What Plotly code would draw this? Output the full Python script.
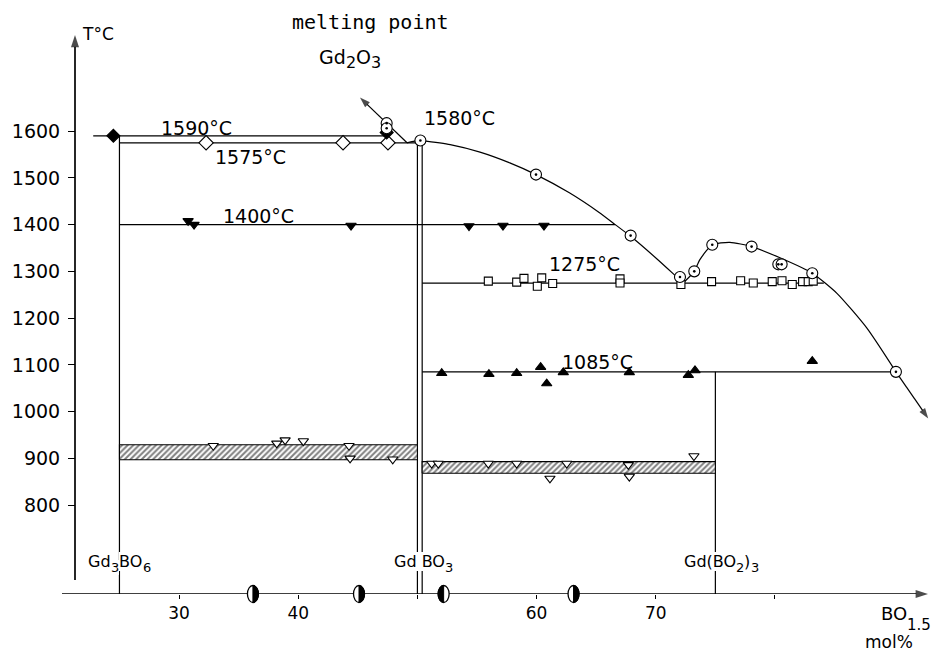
import plotly.graph_objects as go

# ---------------- axes ----------------
X_RANGE = [20.18, 93.26]            # mol% BO1.5
Y_RANGE = [609.8, 1816.3]           # temperature, °C
X_TICKS = [30, 40, 60, 70]
X_MINOR_TICKS = [50, 80]
Y_TICKS = [800, 900, 1000, 1100, 1200, 1300, 1400, 1500, 1600]

# ---------------- compounds (mol% BO1.5) ----------------
# formula pieces: (text, is_subscript)
COMPOUND_PIECES = [
    [("Gd", False), ("3", True), ("BO", False), ("6", True)],
    [("Gd BO", False), ("3", True)],
    [("Gd(BO", False), ("2", True), (")", False), ("3", True)],
]
COMPOUND_X = [25, 50, 75]
GD3BO6_TOP = 1590
GDBO3_PAIR = [50.0, 50.4]
GDBO3_MELT = 1580
GDB3O6_TOP = 1085

# ---------------- invariant isotherms ----------------
ISO_T = [1590, 1575, 1400, 1275, 1085]
ISO_X0 = [22.8, 25.0, 25.0, 50.4, 50.4]
ISO_X1 = [47.42, 50.0, 66.6, 84.1, 90.15]

# ---------------- hatched transition bands ----------------
BAND_X0 = [25.0, 50.4]
BAND_X1 = [50.0, 75.0]
BAND_T_LO = [897, 868]
BAND_T_HI = [929, 893]

# ---------------- liquidus ----------------
LIQ_LEFT_X = [49.13, 47.42, 45.18]
LIQ_LEFT_T = [1575, 1617, 1672]
LIQ_CAP_X = [49.13, 49.75, 50.25]
LIQ_CAP_T = [1575, 1578.5, 1580]
LIQ_MAIN_X = [50.25, 52.75, 55.25, 57.75, 59.95, 62.75, 65.25, 66.6, 67.89, 70.08, 71.5, 72.3]
LIQ_MAIN_T = [1580, 1571, 1555, 1532, 1507, 1468, 1426, 1400, 1375, 1327, 1294, 1275]
LIQ_DOME_X = [72.3, 73.23, 73.7, 74.74, 76.22, 78.04, 80.42, 83.13, 85.2, 87.7, 90.15]
LIQ_DOME_T = [1275, 1300, 1325, 1357, 1362, 1353, 1329, 1296, 1253, 1179, 1085]
LIQ_TAIL_X = [90.15, 92.86]
LIQ_TAIL_T = [1085, 985]

# ---------------- measured points ----------------
CIRC_X = [47.42, 47.42, 50.25, 59.95, 67.89, 72.03, 73.23, 74.74, 78.04, 80.28, 80.56, 83.13, 90.15]
CIRC_T = [1617, 1606, 1580, 1507, 1376.5, 1288, 1300, 1357, 1353, 1315, 1315, 1296, 1085]

DIAM_OPEN_X = [32.27, 43.76, 47.53]
DIAM_OPEN_T = [1575, 1575, 1575]
DIAM_FILL_X = [24.49, 47.42]
DIAM_FILL_T = [1590, 1597]

TRI_DOWN_FILL_X = [30.76, 31.26, 44.43, 54.33, 57.18, 60.62]
TRI_DOWN_FILL_T = [1408, 1400, 1398, 1397, 1398, 1398]

SQ_X = [55.95, 58.33, 58.94, 60.06, 60.43, 61.35, 67.0, 67.0, 72.11, 74.68, 77.12, 78.18,
        79.77, 80.59, 81.45, 82.32, 82.79, 83.21]
SQ_T = [1279, 1277, 1285, 1268, 1286, 1274, 1284, 1275, 1272, 1278, 1280, 1275,
        1278, 1280, 1272, 1278, 1278, 1279]

TRI_UP_FILL_X = [52.04, 56.0, 58.33, 60.34, 60.85, 62.24, 67.78, 72.73, 73.29, 83.13]
TRI_UP_FILL_T = [1082, 1080, 1082, 1095, 1060, 1084, 1084, 1078, 1088, 1108]

TRI_DOWN_OPEN_X = [32.87, 38.2, 38.9, 40.43, 44.26, 44.35, 47.93,
                   51.2, 51.75, 55.95, 58.33, 61.12, 62.53, 67.7, 67.78, 73.2]
TRI_DOWN_OPEN_T = [927, 932, 939, 937, 927, 900, 898,
                   889, 889, 889, 889, 857, 889, 886, 861, 905]

# half-filled samples on the composition axis: side of the black half
HALF_X = [36.2, 45.1, 52.2, 63.1]
HALF_SIDE = ["right", "right", "left", "right"]

FONT = "DejaVu Sans"
INK = "black"
W, H = 935, 653
M = dict(l=62, r=2, t=30, b=59)
PLOT_W = W - M["l"] - M["r"]
PLOT_H = H - M["t"] - M["b"]
PX_PER_MOL = PLOT_W / (X_RANGE[1] - X_RANGE[0])
PX_PER_DEG = PLOT_H / (Y_RANGE[1] - Y_RANGE[0])
Y_AXIS_PX = 13                      # y axis sits this far right of the plot edge

# DejaVu Sans advance widths (em) for laying out formula pieces
GLYPH_W = {"G": 0.775, "d": 0.635, "B": 0.686, "O": 0.787, " ": 0.318, "(": 0.390, ")": 0.390}


def text_width(s, size):
    return sum(GLYPH_W.get(c, 0.636) for c in s) * size


fig = go.Figure()


def line(xs, ys, shape="linear", width=1.2, arrow=False, arrow_size=11):
    kw = {}
    if arrow:
        kw = dict(mode="lines+markers",
                  marker=dict(symbol="arrow", angleref="previous", color=INK,
                              size=[0] * (len(xs) - 1) + [arrow_size], line=dict(width=0)))
    fig.add_trace(go.Scatter(
        x=xs, y=ys, mode=kw.pop("mode", "lines"),
        line=dict(color=INK, width=width, shape=shape, smoothing=0.6),
        hoverinfo="skip", showlegend=False, cliponaxis=False, **kw))


def points(xs, ys, symbol, size, fill, lw=1.1):
    fig.add_trace(go.Scatter(
        x=xs, y=ys, mode="markers",
        marker=dict(symbol=symbol, size=size, color=fill, line=dict(color=INK, width=lw)),
        hoverinfo="skip", showlegend=False, cliponaxis=False))


y_bottom = Y_RANGE[0]

# axis lines with arrowheads
y_axis_x = X_RANGE[0] + Y_AXIS_PX / PX_PER_MOL
line([y_axis_x, y_axis_x], [y_bottom + 14 / PX_PER_DEG, Y_RANGE[1] - 5 / PX_PER_DEG],
     width=1.7, arrow=True, arrow_size=13)
line([X_RANGE[0], X_RANGE[1] - 5 / PX_PER_MOL], [y_bottom, y_bottom],
     width=1.7, arrow=True, arrow_size=13)

# compound verticals
line([COMPOUND_X[0]] * 2, [GD3BO6_TOP, y_bottom])
for gx in GDBO3_PAIR:
    line([gx, gx], [GDBO3_MELT, y_bottom])
line([COMPOUND_X[2]] * 2, [GDB3O6_TOP, y_bottom])

# isotherms
for t, x0, x1 in zip(ISO_T, ISO_X0, ISO_X1):
    line([x0, x1], [t, t])

# hatched bands
for x0, x1, lo, hi in zip(BAND_X0, BAND_X1, BAND_T_LO, BAND_T_HI):
    fig.add_trace(go.Scatter(
        x=[x0, x1, x1, x0, x0], y=[lo, lo, hi, hi, lo], mode="lines",
        fill="toself", fillcolor="white",
        fillpattern=dict(shape="/", fgcolor=INK, bgcolor="white", size=4, solidity=0.5),
        line=dict(color=INK, width=1.1), hoverinfo="skip", showlegend=False))

# liquidus
line(LIQ_LEFT_X, LIQ_LEFT_T, arrow=True)
line(LIQ_CAP_X, LIQ_CAP_T, shape="spline")
line(LIQ_MAIN_X, LIQ_MAIN_T, shape="spline")
line(LIQ_DOME_X, LIQ_DOME_T, shape="spline")
line(LIQ_TAIL_X, LIQ_TAIL_T, arrow=True)

# measured points
points(TRI_DOWN_OPEN_X, TRI_DOWN_OPEN_T, "triangle-down", 9, "white")
points(TRI_UP_FILL_X, TRI_UP_FILL_T, "triangle-up", 9, INK)
points(SQ_X, SQ_T, "square", 8, "white")
points(TRI_DOWN_FILL_X, TRI_DOWN_FILL_T, "triangle-down", 9, INK)
points(DIAM_OPEN_X, DIAM_OPEN_T, "diamond", 11, "white")
points(DIAM_FILL_X, DIAM_FILL_T, "diamond", 10, INK)
points(CIRC_X, CIRC_T, "circle", 11, "white")
points(CIRC_X, CIRC_T, "circle", 2.6, INK, lw=0)

# half-filled ellipses on the composition axis (paper coordinates so they are not clipped)
shapes = []
rx, ry, k = 5.5 / PLOT_W, 8.5 / PLOT_H, 0.5523
for hx, side in zip(HALF_X, HALF_SIDE):
    cx = (hx - X_RANGE[0]) / (X_RANGE[1] - X_RANGE[0])
    cy = 0.0
    shapes.append(dict(type="circle", xref="paper", yref="paper", x0=cx - rx, x1=cx + rx,
                       y0=cy - ry, y1=cy + ry, fillcolor="white",
                       line=dict(color=INK, width=1.3), layer="above"))
    s = rx if side == "right" else -rx
    path = (f"M{cx},{cy - ry} C{cx + k * s},{cy - ry} {cx + s},{cy - k * ry} {cx + s},{cy} "
            f"C{cx + s},{cy + k * ry} {cx + k * s},{cy + ry} {cx},{cy + ry} Z")
    shapes.append(dict(type="path", xref="paper", yref="paper", path=path, fillcolor=INK,
                       line=dict(color=INK, width=1), layer="above"))

annotations = []

# isotherm labels
ISO_LABEL_X = [31.47, 35.96, 36.63, 64.06, 65.07]
ISO_LABEL_SHIFT = [8, -14, 9, 19, 10]
for t, lx, sh in zip(ISO_T, ISO_LABEL_X, ISO_LABEL_SHIFT):
    annotations.append(dict(x=lx, y=t, text=f"{t}°C", showarrow=False, yshift=sh,
                            xanchor="center", yanchor="middle",
                            font=dict(family=FONT, size=19, color=INK)))
annotations.append(dict(x=53.49, y=GDBO3_MELT, text=f"{GDBO3_MELT}°C", showarrow=False, yshift=22,
                        xanchor="center", yanchor="middle",
                        font=dict(family=FONT, size=19, color=INK)))


def paper_x(px):
    return (px - M["l"]) / PLOT_W


def paper_y(py):
    return (H - M["b"] - py) / PLOT_H


def formula(pieces, x, xref, y_paper, size, sub_size, sub_drop, bg=None):
    """Lay out a chemical formula as separate pieces, subscripts lowered."""
    total = sum(text_width(t, sub_size if sub else size) for t, sub in pieces)
    off = -total / 2
    for t, sub in pieces:
        fs = sub_size if sub else size
        a = dict(x=x, y=y_paper, xref=xref, yref="paper", text=t, showarrow=False,
                 xanchor="left", yanchor="middle", xshift=off, yshift=-sub_drop if sub else 0,
                 borderpad=0, borderwidth=0, font=dict(family=FONT, size=fs, color=INK))
        if bg:
            a["bgcolor"] = bg
        annotations.append(a)
        off += text_width(t, fs)


# compound names on white ground
COMPOUND_LABEL_X = [25.0, 50.5, 75.5]
for pieces, cx in zip(COMPOUND_PIECES, COMPOUND_LABEL_X):
    formula(pieces, cx, "x", paper_y(561), 16, 13, 6, bg="white")

# Gd2O3 under the melting point note
formula([("Gd", False), ("2", True), ("O", False), ("3", True)], paper_x(350), "paper",
        paper_y(57), 19, 16, 6)

# axis titles and header
annotations += [
    dict(x=paper_x(80), y=paper_y(34), xref="paper", yref="paper", text="T°C", showarrow=False,
         xanchor="left", yanchor="middle", font=dict(family=FONT, size=17, color=INK)),
    dict(x=paper_x(879), y=paper_y(613), xref="paper", yref="paper", text="BO",
         showarrow=False, xanchor="left", yanchor="middle",
         font=dict(family=FONT, size=18, color=INK)),
    dict(x=paper_x(905), y=paper_y(625), xref="paper", yref="paper", text="1.5",
         showarrow=False, xanchor="left", yanchor="middle",
         font=dict(family=FONT, size=15, color=INK)),
    dict(x=paper_x(889), y=paper_y(642), xref="paper", yref="paper", text="mol%", showarrow=False,
         xanchor="center", yanchor="middle", font=dict(family=FONT, size=17, color=INK)),
    dict(x=paper_x(370), y=paper_y(22), xref="paper", yref="paper", text="melting point",
         showarrow=False, xanchor="center", yanchor="middle",
         font=dict(family="DejaVu Sans Mono", size=20, color=INK)),
]

tick_style = dict(ticks="outside", tickwidth=1.2, tickcolor=INK)
fig.update_layout(
    width=W, height=H, margin=M,
    paper_bgcolor="white", plot_bgcolor="white",
    showlegend=False, annotations=annotations, shapes=shapes,
    xaxis=dict(range=X_RANGE, tickvals=X_TICKS, showgrid=False, zeroline=False, showline=False,
               ticklen=4, tickfont=dict(family=FONT, size=17, color=INK),
               minor=dict(tickvals=X_MINOR_TICKS, ticklen=4, showgrid=False, **tick_style),
               **tick_style),
    yaxis=dict(range=Y_RANGE, tickvals=Y_TICKS, showgrid=False, zeroline=False,
               showline=False, anchor="free", position=Y_AXIS_PX / PLOT_W,
               ticklen=7, ticklabelstandoff=4,
               tickfont=dict(family=FONT, size=19, color=INK), **tick_style),
)

fig.write_html("out.html")
